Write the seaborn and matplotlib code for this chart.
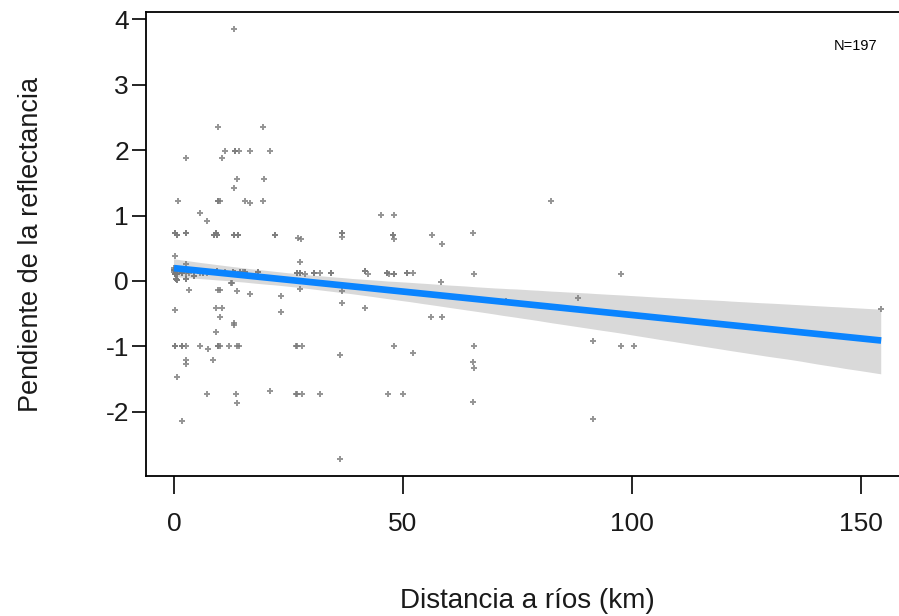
import matplotlib
matplotlib.use("Agg")
import matplotlib.pyplot as plt
from matplotlib.collections import PolyCollection
import pandas as pd
import seaborn as sns

# Distance of each site to the nearest river (km)
dist_km = [
    13.1, 9.6, 19.4, 11.1, 13.3, 14.2, 16.6, 21.0, 2.6, 10.5,
    13.8, 19.7, 13.1, 0.9, 9.6, 10.0, 15.5, 16.6, 19.4, 5.7,
    7.2, 0.2, 0.7, 2.6, 8.7, 9.2, 9.4, 13.1, 14.0, 22.1,
    27.1, 45.2, 48.0, 27.7, 36.7, 36.7, 47.8, 48.0, 56.3, 58.5,
    65.3, 82.3, 97.6, 88.2, 72.5, 154.4, 91.5, 97.6, 100.4, 91.5,
    27.5, 26.9, 27.5, 28.6, 30.6, 31.9, 34.3, 41.7, 42.4, 46.5,
    46.9, 48.0, 50.9, 52.2, 58.3, 65.5,
    27.5, 36.7, 36.7, 41.7, 56.1, 58.5, 26.6, 27.9, 36.2, 48.0,
    52.2, 65.5, 65.3, 65.5, 26.6, 27.9, 31.9, 46.7, 50.0, 65.3, 36.2,
    0.2, 2.6, 0.0, 0.2, 0.7, 1.7, 0.7, 2.6, 4.4, 6.3, 9.4, 12.9, 14.4, 15.5, 18.3, 12.4,
    3.3, 9.6, 10.0, 13.8, 16.6, 23.4, 0.2, 9.2, 10.5, 10.0, 13.1, 13.1, 23.4, 9.2,
    0.2, 1.7, 2.6, 5.7, 7.4, 9.6, 10.0, 12.0, 13.8, 14.2, 26.9, 2.6, 2.6, 8.5, 0.7,
    7.2, 13.5, 13.8, 21.0, 26.9, 1.7,
    0.4, 13.3, 15.1, 10.7, 12.7,
    0.0, 0.0, 0.0, 0.0, 0.2, 0.2, 0.2, 0.4, 0.7, 0.7, 0.9, 1.7, 1.7, 2.6, 2.6,
    3.3, 4.4, 5.7, 6.3, 7.2, 8.5, 9.4, 10.0, 10.5, 11.1, 12.9, 13.3, 14.4, 15.5, 18.3,
    27.5, 26.9, 30.6, 46.5, 48.0, 41.7, 34.3, 50.9,
    9.2, 13.1, 14.0, 0.2, 47.8, 36.7, 0.7, 2.6, 8.7, 9.4, 22.1,
    9.6, 0.2, 1.7,
    13.3, 9.6,
]

# Reflectance slope at each site
pendiente = [
    3.85, 2.35, 2.35, 1.98, 1.98, 1.98, 1.98, 1.98, 1.88, 1.88,
    1.56, 1.56, 1.42, 1.22, 1.22, 1.22, 1.22, 1.19, 1.22, 1.04,
    0.92, 0.73, 0.70, 0.73, 0.70, 0.73, 0.70, 0.70, 0.70, 0.70,
    0.66, 1.01, 1.01, 0.64, 0.73, 0.67, 0.70, 0.64, 0.70, 0.56,
    0.73, 1.22, 0.11, -0.26, -0.31, -0.43, -0.92, -0.99, -0.99, -2.11,
    0.29, 0.12, 0.12, 0.11, 0.12, 0.12, 0.12, 0.15, 0.11, 0.12,
    0.11, 0.11, 0.12, 0.12, -0.02, 0.11,
    -0.12, -0.15, -0.34, -0.41, -0.55, -0.55, -0.99, -0.99, -1.13, -0.99,
    -1.10, -0.99, -1.24, -1.33, -1.73, -1.73, -1.73, -1.73, -1.73, -1.85, -2.72,
    0.38, 0.26, 0.17, 0.11, 0.11, 0.12, 0.02, 0.03, 0.08, 0.12, 0.15, 0.14, 0.14, 0.14, 0.14, -0.03,
    -0.14, -0.14, -0.14, -0.15, -0.20, -0.23, -0.44, -0.41, -0.41, -0.55, -0.64, -0.67, -0.47, -0.78,
    -0.99, -0.99, -0.99, -0.99, -1.04, -0.99, -0.99, -0.99, -0.99, -0.99, -0.99, -1.21, -1.27, -1.21, -1.47,
    -1.73, -1.73, -1.86, -1.68, -1.73, -2.14,
    0.03, 0.12, 0.14, 0.12, -0.03,
    0.17, 0.17, 0.20, 0.14, 0.11, 0.11, 0.17, 0.03, 0.11, 0.02, 0.14, 0.12, 0.12, 0.12, 0.03,
    0.12, 0.08, 0.12, 0.12, 0.12, 0.14, 0.15, 0.12, 0.12, 0.14, 0.14, 0.12, 0.14, 0.14, 0.14,
    0.12, 0.12, 0.12, 0.12, 0.11, 0.15, 0.12, 0.12,
    0.73, 0.70, 0.70, 0.73, 0.70, 0.73, 0.70, 0.73, 0.70, 0.70, 0.70,
    -0.99, -0.99, -0.99,
    1.98, 1.22,
]

x_ticks = [0, 50, 100, 150]
y_ticks = [-2, -1, 0, 1, 2, 3, 4]

df = pd.DataFrame({"dist": dist_km, "pend": pendiente})

sns.set_style("ticks")
plt.rcParams["font.family"] = ["Liberation Sans", "DejaVu Sans"]

W, H = 899, 616
fig = plt.figure(figsize=(W / 100, H / 100), dpi=100)
left, right, top, bottom = 145.7, 909.5, 12, 476
ax = fig.add_axes([left / W, 1 - bottom / H, (right - left) / W, (bottom - top) / H])

sns.regplot(
    data=df, x="dist", y="pend", ax=ax,
    ci=87, n_boot=2000, seed=7, truncate=True, marker="+",
    scatter_kws=dict(color="#7a7a7a", s=24, linewidths=1.4, zorder=2),
    line_kws=dict(color="#0a84ff", lw=4.8, zorder=3, solid_capstyle="butt"),
)

# Confidence band as a flat light-grey ribbon beneath the points
for coll in ax.collections:
    if isinstance(coll, PolyCollection):
        coll.set_facecolor("#d9d9d9")
        coll.set_edgecolor("none")
        coll.set_alpha(1.0)
        coll.set_zorder(1)

xr = max(dist_km) - min(dist_km)
yr = max(pendiente) - min(pendiente)
ax.set_xlim(min(dist_km) - 0.04 * xr, max(dist_km) + 0.04 * xr)
ax.set_ylim(min(pendiente) - 0.04 * yr, max(pendiente) + 0.04 * yr)

ax.set_xticks(x_ticks)
ax.set_yticks(y_ticks)
ax.set_xticklabels([str(v) for v in x_ticks])
ax.set_yticklabels([str(v) for v in y_ticks])

for s in ax.spines.values():
    s.set_color("black")
    s.set_linewidth(1.3)
ax.tick_params(axis="both", direction="out", width=1.2, color="black",
               labelsize=19, labelcolor="#1a1a1a")
ax.tick_params(axis="x", length=13, pad=13)
ax.tick_params(axis="y", length=10, pad=2)

ax.set_xlabel("Distancia a ríos (km)", fontsize=20, color="#1a1a1a")
ax.set_ylabel("Pendiente de la reflectancia", fontsize=19.5, color="#1a1a1a")
ax.xaxis.set_label_coords(0.5, (bottom - 588) / (bottom - top))
ax.yaxis.set_label_coords((44 - left) / (right - left), 0.5)

ax.text(0.930, 0.927, f"N={len(dist_km)}", transform=ax.transAxes,
        ha="center", va="center", fontsize=10.5, color="black")

fig.savefig("out.png", dpi=100, facecolor="white")
